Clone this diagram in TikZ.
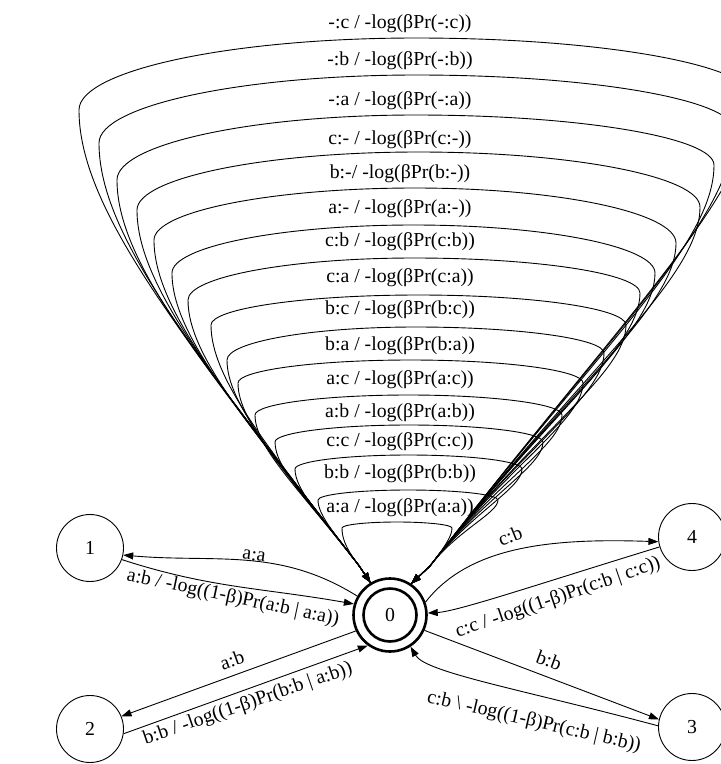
\documentclass[tikz,border=0pt]{standalone}
\usepackage{fontspec}
\setmainfont{Liberation Serif}
\usetikzlibrary{arrows.meta,calc}
% #1 arrow, #2 top y, #3 left x, #4 left drop, #5 right x, #6 right drop (image coordinates, y down)
% left bundle: S -> QL=(358.5,565), dir (-0.61,-0.79); right bundle: E -> QR=(430,566), dir (0.61,-0.79)
\newcommand\drawfstloop[6]{%
  \pgfmathsetmacro\qxm{(#3+#5)/2}%
  \pgfmathsetmacro\qyl{#2+#4}%
  \pgfmathsetmacro\qyr{#2+#6}%
  \pgfmathsetmacro\qhl{565-\qyl}%
  \pgfmathsetmacro\qhr{566-\qyr}%
  \pgfmathsetmacro\qax{358.5-0.61*0.5*\qhl/0.79}%
  \pgfmathsetmacro\qay{-(565-0.5*\qhl)}%
  \pgfmathsetmacro\qby{-(\qyl+0.22*\qhl)}%
  \pgfmathsetmacro\qcyl{-(\qyl-0.55*#4)}%
  \pgfmathsetmacro\qcyr{-(\qyr-0.55*#6)}%
  \pgfmathsetmacro\qcx{\qxm-0.55*(\qxm-#3)}%
  \pgfmathsetmacro\qex{\qxm+0.55*(#5-\qxm)}%
  \pgfmathsetmacro\qfy{-(\qyr+0.2*\qhr)}%
  \pgfmathsetmacro\qgx{430+0.61*0.55*\qhr/0.79}%
  \pgfmathsetmacro\qgy{-(566-0.55*\qhr)}%
  \pgfmathsetmacro\qYL{-\qyl}%
  \pgfmathsetmacro\qYR{-\qyr}%
  \pgfmathsetmacro\qT{-#2}%
  \draw[loopline,#1] (n0.121) -- (358.5,-565)
    .. controls (\qax,\qay) and (#3,\qby) .. (#3,\qYL)
    .. controls (#3,\qcyl) and (\qcx,\qT) .. (\qxm,\qT)
    .. controls (\qex,\qT) and (#5,\qcyr) .. (#5,\qYR)
    .. controls (#5,\qfy) and (\qgx,\qgy) .. (430,-566) -- (n0.56);%
}
\begin{document}
\begin{tikzpicture}[x=1pt,y=1pt,
  >={Triangle[length=10pt,width=7pt]},
  every node/.style={font=\fontsize{19.8}{22}\selectfont},
  state/.style={draw, circle, minimum size=67pt, inner sep=0pt, line width=0.9pt, fill=white},
  accept/.style={draw, circle, minimum size=73pt, inner sep=0pt, line width=2.6pt, fill=white},
  edgeline/.style={line width=0.9pt},
  loopline/.style={line width=0.9pt, line join=round},
  lbl/.style={inner sep=1pt}
]
\useasboundingbox (0,0) rectangle (721,-764);
\clip (0,0) rectangle (721,-764);

% states
\node[accept] (n0) at (390,-615) {0};
\draw[line width=2.6pt] (n0.center) circle[radius=26.5pt];
\node[state] (n1) at (90,-548) {1};
\node[state] (n2) at (90,-729) {2};
\node[state] (n4) at (692,-537) {4};
\node[state] (n3) at (692,-727) {3};

% self loops on state 0
\drawfstloop{->}{522}{342}{6}{452}{6}
\drawfstloop{<-}{490}{318}{10}{498}{10}
\drawfstloop{->}{455}{295}{14}{522}{14}
\drawfstloop{<-}{425}{275}{17}{543}{17}
\drawfstloop{->}{395}{255}{20}{562}{20}
\drawfstloop{<-}{360}{238}{23}{583}{23}
\drawfstloop{->}{327}{227}{33}{604}{26}
\drawfstloop{<-}{295}{211}{30}{626}{30}
\drawfstloop{->}{258}{188}{42}{640}{35}
\drawfstloop{<-}{225}{172}{48}{655}{48}
\drawfstloop{->}{188}{154}{52}{676}{55}
\drawfstloop{<-}{152}{137}{58}{700}{55}
\drawfstloop{->}{115}{117}{65}{714}{50}
\drawfstloop{<-}{75}{99}{68}{734}{55}
\drawfstloop{->}{38}{79}{72}{753}{60}

\node[lbl] (l1) at (400,-508) {a:a / -log(βPr(a:a))};
\node[lbl] (l2) at (400,-474) {b:b / -log(βPr(b:b))};
\node[lbl] (l3) at (400,-442) {c:c / -log(βPr(c:c))};
\node[lbl] (l4) at (400,-413) {a:b / -log(βPr(a:b))};
\node[lbl] (l5) at (400,-380) {a:c / -log(βPr(a:c))};
\node[lbl] (l6) at (400,-346) {b:a / -log(βPr(b:a))};
\node[lbl] (l7) at (400,-310) {b:c / -log(βPr(b:c))};
\node[lbl] (l8) at (400,-278) {c:a / -log(βPr(c:a))};
\node[lbl] (l9) at (400,-242) {c:b / -log(βPr(c:b))};
\node[lbl] (l10) at (400,-209) {a:- / -log(βPr(a:-))};
\node[lbl] (l11) at (400,-174) {b:-/ -log(βPr(b:-))};
\node[lbl] (l12) at (400,-140) {c:- / -log(βPr(c:-))};
\node[lbl] (l13) at (400,-101) {-:a / -log(βPr(-:a))};
\node[lbl] (l14) at (400,-61) {-:b / -log(βPr(-:b))};
\node[lbl] (l15) at (400,-24) {-:c / -log(βPr(-:c))};

% transitions to the other states
\draw[edgeline,->] (n0.150) to[out=148,in=-5] (n1.-12);
\draw[edgeline,->] (n1.-20) to[out=-18,in=170] (n0.163);
\draw[edgeline,->] (n0.205) -- (n2.22);
\draw[edgeline,->] (n2.-8) -- (n0.234);
\draw[edgeline,->] (n0.20) to[out=52,in=178,out distance=70pt,in distance=110pt] (n4.188);
\draw[edgeline,->] (n4.197) to[out=197,in=3,out distance=120pt,in distance=30pt] (n0.3);
\draw[edgeline,->] (n0.-24) -- (n3.167);
\draw[edgeline,->] (n3.178) to[out=165,in=-60,out distance=140pt,in distance=30pt] (n0.-57);

\node[lbl,rotate=-8] (la1) at (254,-556) {a:a};
\node[lbl,rotate=-12] (la2) at (233,-598) {a:b / -log((1-β)Pr(a:b | a:a))};
\node[lbl,rotate=20] (la3) at (232,-660) {a:b};
\node[lbl,rotate=19] (la4) at (248,-704) {b:b / -log((1-β)Pr(b:b | a:b))};
\node[lbl,rotate=22] (la5) at (510,-536) {c:b};
\node[lbl,rotate=19] (la6) at (558,-598) {c:c / -log((1-β)Pr(c:b | c:c))};
\node[lbl,rotate=-20] (la7) at (549,-660) {b:b};
\node[lbl,rotate=-13] (la8) at (534,-722) {c:b \textbackslash{} -log((1-β)Pr(c:b | b:b))};
\end{tikzpicture}
\end{document}
